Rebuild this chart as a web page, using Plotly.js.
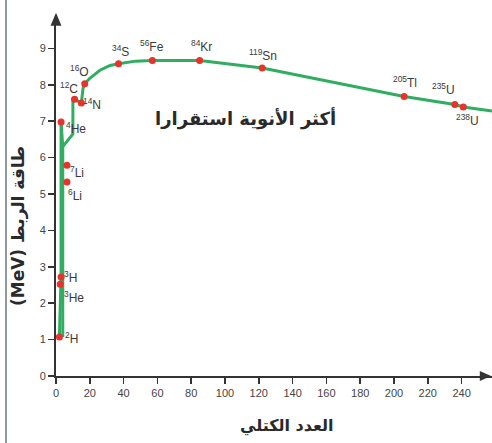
<!DOCTYPE html>
<html>
<head>
<meta charset="utf-8">
<script src="https://cdn.plot.ly/plotly-3.0.1.min.js"></script>
<style>html,body{margin:0;padding:0;background:#fff;}#chart{width:492px;height:443px;}</style>
</head>
<body>
<div id="chart"></div>
<script>
// ---- data ----
const massNumbers = [2, 3, 3, 4, 7, 6, 12, 14, 16, 34, 56, 84, 119, 205, 235, 238];
const symbols     = ['H','H','He','He','Li','Li','C','N','O','S','Fe','Kr','Sn','Tl','U','U'];
const pointX      = [2, 3, 2.5, 3, 6.5, 6.5, 11, 15, 17, 37, 57, 85, 122, 206, 236, 241];
const pointY      = [1.07, 2.72, 2.52, 6.98, 5.79, 5.33, 7.6, 7.5, 8.03, 8.58, 8.67, 8.67, 8.46, 7.68, 7.46, 7.39];

// green curve (segments separated by null)
const curveX = [2, 2.5, 3, 3, null,
                3, 4, 4, null,
                4, 10, 10, 11, 15, 16, 17, 20, 26, 32, 37, 47, 57, 85, 122, 206, 236, 241, 258];
const curveY = [1.07, 2.52, 2.72, 6.98, null,
                6.98, 6.3, 1.07, null,
                6.3, 6.65, 7.6, 7.6, 7.5, 7.9, 8.03, 8.18, 8.4, 8.53, 8.58, 8.65, 8.67, 8.67, 8.46, 7.68, 7.46, 7.39, 7.28];

const xTicks = [0,20,40,60,80,100,120,140,160,180,200,220,240];
const yTicks = [0,1,2,3,4,5,6,7,8,9];

const xTitle = 'العدد الكتلي';
const yTitle = '(MeV) طاقة الربط';
const noteText = 'أكثر الأنوية استقرارا';

// label offsets in pixels [xshift, yshift] (layout only)
const labelOffsets = [[12,-1],[9,0],[14,-13],[15,-6],[10,-7],[8,-13],[-6,11],[11,-1],[-5,13],[2,13],[0,14],[2,14],[1,13],[1,14],[-11,15],[4,-13]];

const axisColor = '#333333';
const green = '#2fae62';
const red = '#e8322c';

const traces = [
  {x: curveX, y: curveY, mode: 'lines', type: 'scatter',
   line: {color: green, width: 3}, connectgaps: false, hoverinfo: 'skip', cliponaxis: false},
  {x: pointX, y: pointY, mode: 'markers', type: 'scatter',
   marker: {color: red, size: 7}, cliponaxis: false}
];

const annotations = massNumbers.map((m, i) => ({
  x: pointX[i], y: pointY[i], xref: 'x', yref: 'y',
  text: '<sup>' + m + '</sup>' + symbols[i],
  showarrow: false, xanchor: 'center', yanchor: 'middle',
  xshift: labelOffsets[i][0], yshift: labelOffsets[i][1],
  font: {family: 'Liberation Sans, Arial, sans-serif', size: 12, color: '#3a3a3a'}
}));

annotations.push({
  x: 112, y: 7.08, xref: 'x', yref: 'y', text: noteText, showarrow: false,
  xanchor: 'center', yanchor: 'middle',
  font: {family: 'DejaVu Sans, sans-serif', size: 18, color: '#2a2a2a', weight: 'bold'}
});
annotations.push({
  x: (287-56)/436, y: (376-426)/351, xref: 'paper', yref: 'paper', text: xTitle, showarrow: false,
  xanchor: 'center', yanchor: 'middle',
  font: {family: 'DejaVu Sans, sans-serif', size: 16, color: '#2a2a2a', weight: 'bold'}
});
annotations.push({
  x: (18-56)/436, y: (376-226)/351, xref: 'paper', yref: 'paper', text: yTitle, showarrow: false,
  xanchor: 'center', yanchor: 'middle', textangle: -90,
  font: {family: 'DejaVu Sans, sans-serif', size: 17, color: '#2a2a2a', weight: 'bold'}
});

const layout = {
  width: 492, height: 443,
  margin: {l: 56, r: 0, t: 25, b: 67, pad: 0},
  paper_bgcolor: '#ffffff', plot_bgcolor: '#ffffff',
  showlegend: false,
  xaxis: {
    range: [0, 258], tickvals: xTicks, ticktext: xTicks.map(String),
    showgrid: false, zeroline: false, showline: true, linecolor: axisColor, linewidth: 2,
    ticks: 'outside', ticklen: 6, tickwidth: 1.5, tickcolor: axisColor,
    tickfont: {family: 'Liberation Sans, Arial, sans-serif', size: 11, color: '#444'}
  },
  yaxis: {
    range: [0, 351/36.4], tickvals: yTicks, ticktext: yTicks.map(String),
    showgrid: false, zeroline: false, showline: true, linecolor: axisColor, linewidth: 2,
    ticks: 'outside', ticklen: 6, tickwidth: 1.5, tickcolor: axisColor,
    tickfont: {family: 'Liberation Sans, Arial, sans-serif', size: 11, color: '#444'}
  },
  annotations: annotations,
  shapes: [
    {type: 'path', xref: 'paper', yref: 'paper',
     path: 'M -0.0125,0.998 L 0,1.035 L 0.0125,0.998 Z', fillcolor: axisColor, line: {width: 0}},
    {type: 'path', xref: 'paper', yref: 'paper',
     path: 'M 0.972,-0.0145 L 0.998,0 L 0.972,0.0145 Z', fillcolor: axisColor, line: {width: 0}},
    {type: 'line', xref: 'paper', yref: 'paper',
     x0: (6-56)/436, x1: (6-56)/436, y0: -0.2, y1: 1.08, line: {color: '#8d99a6', width: 2}}
  ]
};

Plotly.newPlot('chart', traces, layout, {displayModeBar: false, staticPlot: true});
</script>
</body>
</html>
